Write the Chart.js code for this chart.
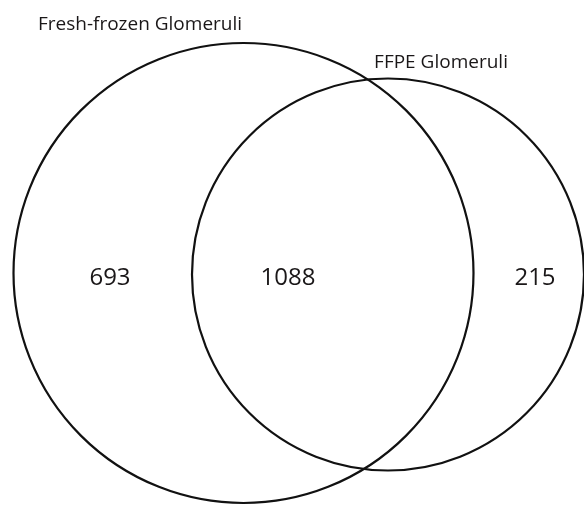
<!DOCTYPE html>
<html>
<head>
<meta charset="utf-8">
<script src="https://cdn.jsdelivr.net/npm/chart.js@4.4.1/dist/chart.umd.min.js"></script>
<style>
  html, body { margin: 0; padding: 0; background: #fff; }
  #wrap { width: 584px; height: 505px; }
</style>
</head>
<body>
<div id="wrap"><canvas id="venn" width="584" height="505"></canvas></div>
<script>
// sets of the diagram (centre and radius in plot units)
const setNames = ["Fresh-frozen Glomeruli", "FFPE Glomeruli"];
const setX = [243.5, 388];
const setY = [273, 274.5];
const setR = [230, 196];

// where the set names sit
const nameX = [140, 441];
const nameY = [25, 63];

// region counts: only fresh, both, only FFPE
const regionCounts = [693, 1088, 215];
const regionX = [110, 288, 535];
const regionY = [278, 278, 278];

const FONT = "'Open Sans', 'Noto Sans', sans-serif";

const venLabels = {
  id: "venLabels",
  afterDatasetsDraw(chart) {
    const { ctx, scales: { x, y } } = chart;
    ctx.save();
    ctx.fillStyle = "#1a1718";
    ctx.textAlign = "center";
    ctx.textBaseline = "middle";
    ctx.font = "19px " + FONT;
    setNames.forEach((n, i) => {
      ctx.fillText(n, x.getPixelForValue(nameX[i]), y.getPixelForValue(nameY[i]));
    });
    ctx.font = "24px " + FONT;
    regionCounts.forEach((c, i) => {
      ctx.fillText(String(c), x.getPixelForValue(regionX[i]), y.getPixelForValue(regionY[i]));
    });
    ctx.restore();
  }
};

// radius in plot units -> pixels through the x scale
function radiusPx(ctx) {
  const x = ctx.chart.scales.x;
  const i = ctx.dataIndex;
  return Math.abs(x.getPixelForValue(setX[i] + setR[i]) - x.getPixelForValue(setX[i]));
}

new Chart(document.getElementById("venn"), {
  type: "scatter",
  data: {
    datasets: [{
      data: setX.map((cx, i) => ({ x: cx, y: setY[i] })),
      pointRadius: radiusPx,
      pointHoverRadius: radiusPx,
      pointBackgroundColor: "rgba(0,0,0,0)",
      pointBorderColor: "#111",
      pointBorderWidth: 2.2,
      clip: false
    }]
  },
  options: {
    responsive: false,
    animation: false,
    events: [],
    layout: { padding: 0, autoPadding: false },
    plugins: { legend: { display: false }, tooltip: { enabled: false } },
    scales: {
      x: { type: "linear", min: 0, max: 584, display: false },
      y: { type: "linear", min: 0, max: 505, reverse: true, display: false }
    }
  },
  plugins: [venLabels]
});
</script>
</body>
</html>
